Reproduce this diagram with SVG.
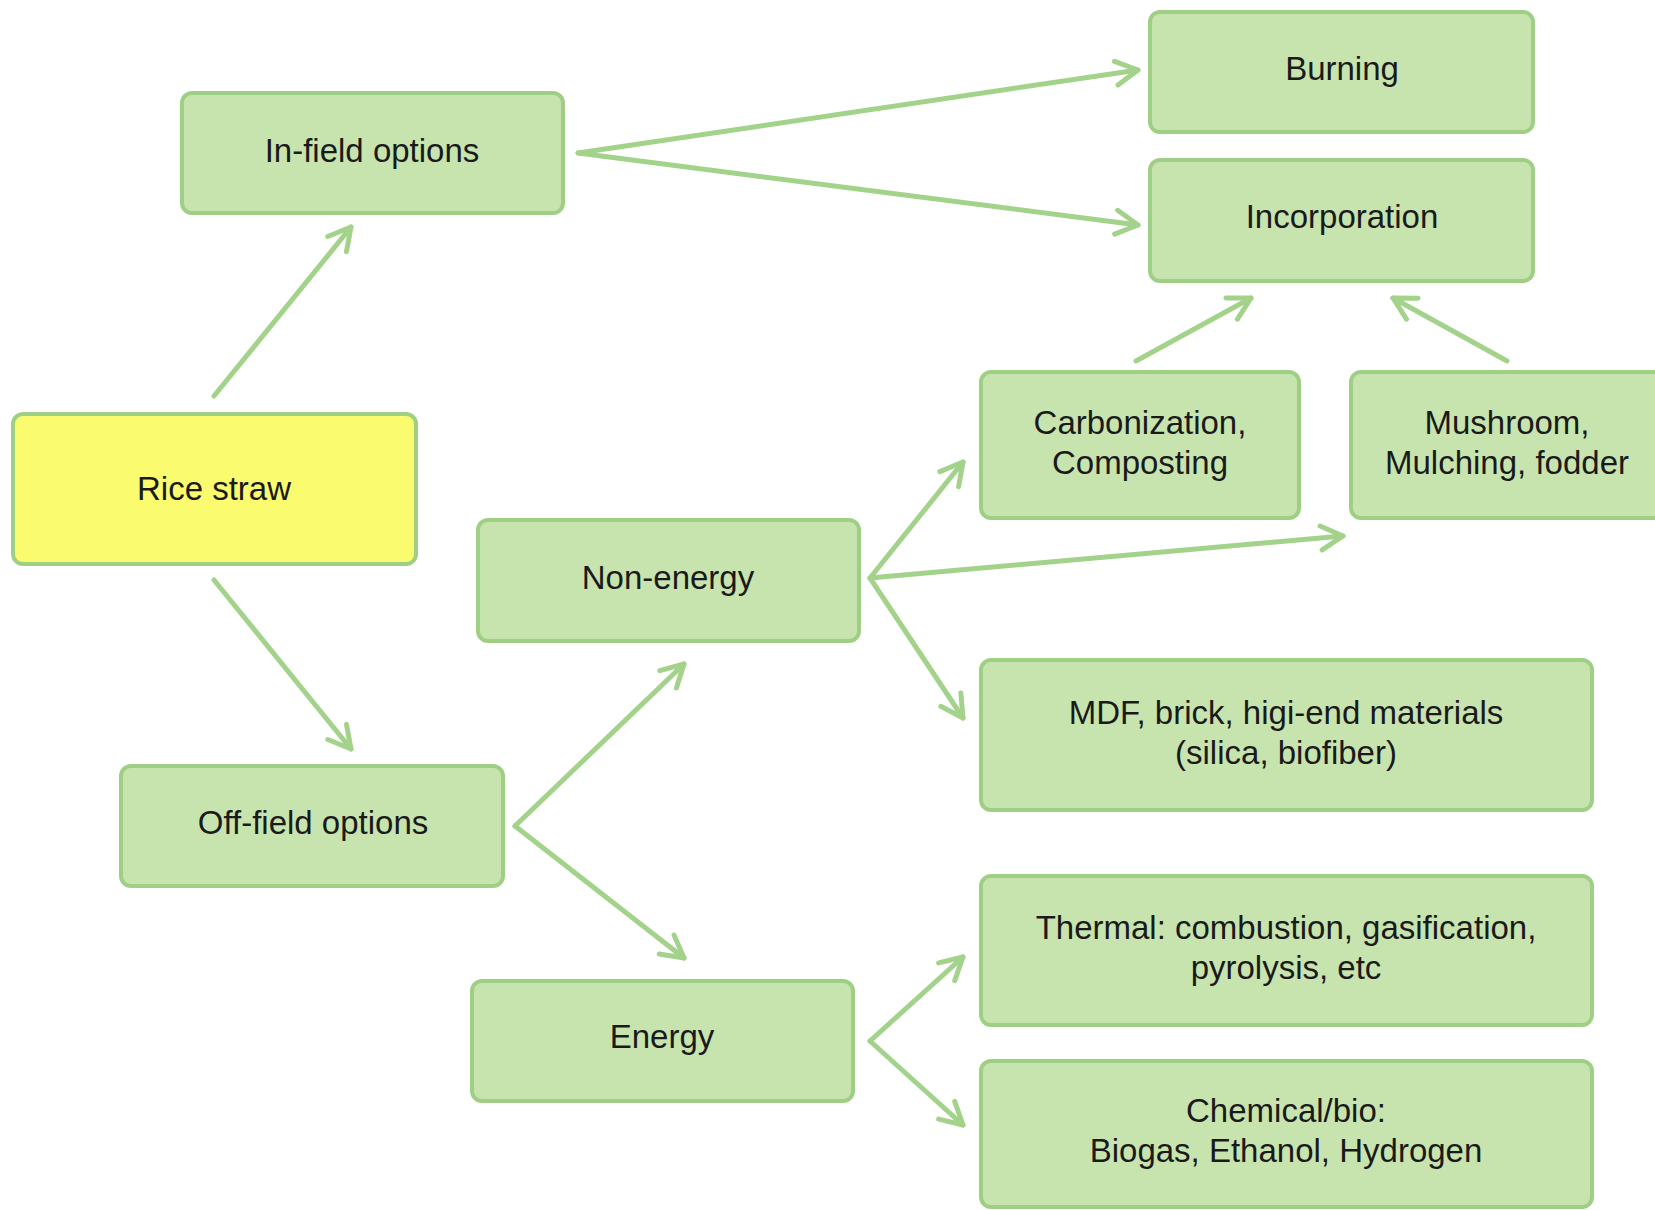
<svg xmlns="http://www.w3.org/2000/svg" width="1655" height="1210" viewBox="0 0 1655 1210">
<style>
.box{fill:#c8e4ae;stroke:#9fcf84;stroke-width:4}
.root{fill:#fbfb6f;stroke:#9fcf84;stroke-width:4}
text{font-family:"Liberation Sans",Arial,sans-serif;font-size:33px;fill:#1a1a1a;text-anchor:middle}
.c line{stroke:#a3d28a;stroke-width:5;stroke-linecap:round;fill:none}
</style>
<defs>
<marker id="arr" viewBox="0 0 30 30" refX="27" refY="15" markerWidth="30" markerHeight="30" markerUnits="userSpaceOnUse" orient="auto">
<path d="M5,3 L27,15 L5,27" fill="none" stroke="#a3d28a" stroke-width="5" stroke-linecap="round" stroke-linejoin="round"/>
</marker>
</defs>
<rect width="1655" height="1210" fill="#ffffff"/>
<g class="c" id="connectors">
<line x1="214" y1="396" x2="351" y2="227" marker-end="url(#arr)"/>
<line x1="214" y1="580" x2="351" y2="749" marker-end="url(#arr)"/>
<line x1="578" y1="153" x2="1138" y2="70" marker-end="url(#arr)"/>
<line x1="578" y1="153" x2="1138" y2="225" marker-end="url(#arr)"/>
<line x1="1136" y1="361" x2="1251" y2="298" marker-end="url(#arr)"/>
<line x1="1507" y1="361" x2="1393" y2="298" marker-end="url(#arr)"/>
<line x1="870" y1="578" x2="963" y2="462" marker-end="url(#arr)"/>
<line x1="870" y1="578" x2="1343" y2="536" marker-end="url(#arr)"/>
<line x1="870" y1="578" x2="963" y2="718" marker-end="url(#arr)"/>
<line x1="515" y1="826" x2="684" y2="664" marker-end="url(#arr)"/>
<line x1="515" y1="826" x2="684" y2="958" marker-end="url(#arr)"/>
<line x1="870" y1="1041" x2="963" y2="957" marker-end="url(#arr)"/>
<line x1="870" y1="1041" x2="963" y2="1125" marker-end="url(#arr)"/>
</g>
<g id="infield"><rect class="box" x="182" y="93" width="381" height="120" rx="10"/><text x="372" y="162">In-field options</text></g>
<g id="rice"><rect class="root" x="13" y="414" width="403" height="150" rx="10"/><text x="214" y="500">Rice straw</text></g>
<g id="burning"><rect class="box" x="1150" y="12" width="383" height="120" rx="10"/><text x="1342" y="80">Burning</text></g>
<g id="incorporation"><rect class="box" x="1150" y="160" width="383" height="121" rx="10"/><text x="1342" y="228">Incorporation</text></g>
<g id="carbonization"><rect class="box" x="981" y="372" width="318" height="146" rx="10"/><text x="1140" y="434">Carbonization,</text><text x="1140" y="474">Composting</text></g>
<g id="mushroom"><rect class="box" x="1351" y="372" width="330" height="146" rx="10"/><text x="1507" y="434">Mushroom,</text><text x="1507" y="474">Mulching, fodder</text></g>
<g id="nonenergy"><rect class="box" x="478" y="520" width="381" height="121" rx="10"/><text x="668" y="589">Non-energy</text></g>
<g id="mdf"><rect class="box" x="981" y="660" width="611" height="150" rx="10"/><text x="1286" y="724">MDF, brick, higi-end materials</text><text x="1286" y="764">(silica, biofiber)</text></g>
<g id="offfield"><rect class="box" x="121" y="766" width="382" height="120" rx="10"/><text x="313" y="834">Off-field options</text></g>
<g id="thermal"><rect class="box" x="981" y="876" width="611" height="149" rx="10"/><text x="1286" y="939">Thermal: combustion, gasification,</text><text x="1286" y="979">pyrolysis, etc</text></g>
<g id="energy"><rect class="box" x="472" y="981" width="381" height="120" rx="10"/><text x="662" y="1048">Energy</text></g>
<g id="chemical"><rect class="box" x="981" y="1061" width="611" height="146" rx="10"/><text x="1286" y="1122">Chemical/bio:</text><text x="1286" y="1162">Biogas, Ethanol, Hydrogen</text></g>
</svg>
